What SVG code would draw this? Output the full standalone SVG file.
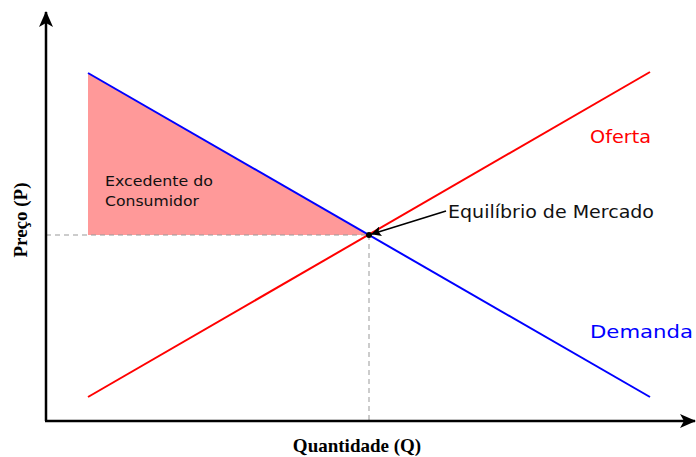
<svg xmlns="http://www.w3.org/2000/svg" width="696" height="457" viewBox="0 0 696 457">
<defs>
<marker id="ah" markerWidth="10" markerHeight="10" refX="9" refY="5" orient="auto" markerUnits="userSpaceOnUse" viewBox="0 0 10 10"><path d="M0,0 L10,5 L0,10 L2,5 Z" fill="#000"/></marker>
<marker id="ax" markerWidth="16" markerHeight="14" refX="15" refY="7" orient="auto" markerUnits="userSpaceOnUse" viewBox="0 0 16 14"><path d="M0,0 L16,7 L0,14 L4,7 Z" fill="#000"/></marker>
</defs>
<style>
.lbl{font-family:"DejaVu Sans","Noto Sans",sans-serif;}
.axl{font-family:"Liberation Serif",serif;font-weight:bold;font-size:19px;fill:#000;}
.dash{stroke:#999;stroke-width:1;stroke-dasharray:5,4;fill:none;}
</style>
<rect width="696" height="457" fill="#fff"/>
<g id="surplus">
<polygon points="88,73 88,235 369,235" fill="#ff9999"/>
<text class="lbl" x="105" y="186" font-size="14.5" fill="#111" textLength="108" lengthAdjust="spacingAndGlyphs">Excedente do</text>
<text class="lbl" x="105" y="206" font-size="14.5" fill="#111" textLength="94" lengthAdjust="spacingAndGlyphs">Consumidor</text>
</g>
<g id="guides">
<line class="dash" x1="46" y1="235" x2="369" y2="235"/>
<line class="dash" x1="369" y1="235" x2="369" y2="421"/>
</g>
<g id="axes" stroke="#000" stroke-width="2.5" fill="none">
<line x1="46" y1="421" x2="46" y2="12" marker-end="url(#ax)"/>
<line x1="45" y1="421" x2="695" y2="421" marker-end="url(#ax)"/>
</g>
<g id="supply">
<line x1="88" y1="397" x2="650" y2="72" stroke="#ff0000" stroke-width="2"/>
<text class="lbl" x="590" y="143" font-size="18" fill="#ff0000" textLength="61" lengthAdjust="spacingAndGlyphs">Oferta</text>
</g>
<g id="demand">
<line x1="88" y1="73" x2="650" y2="397" stroke="#0000ff" stroke-width="2"/>
<text class="lbl" x="590" y="338" font-size="18" fill="#0000ff" textLength="103" lengthAdjust="spacingAndGlyphs">Demanda</text>
</g>
<g id="equilibrium">
<circle cx="369" cy="235" r="3" fill="#000"/>
<text class="lbl" x="448" y="218" font-size="18" fill="#111" textLength="206" lengthAdjust="spacingAndGlyphs">Equilíbrio de Mercado</text>
</g>
<g id="connectors">
<line x1="446" y1="211" x2="372" y2="234" stroke="#000" stroke-width="1.6" marker-end="url(#ah)"/>
</g>
<g id="axis-labels">
<text class="axl" x="357" y="452" text-anchor="middle">Quantidade (Q)</text>
<text class="axl" x="0" y="0" text-anchor="middle" transform="translate(27,220) rotate(-90)">Preço (P)</text>
</g>
</svg>
